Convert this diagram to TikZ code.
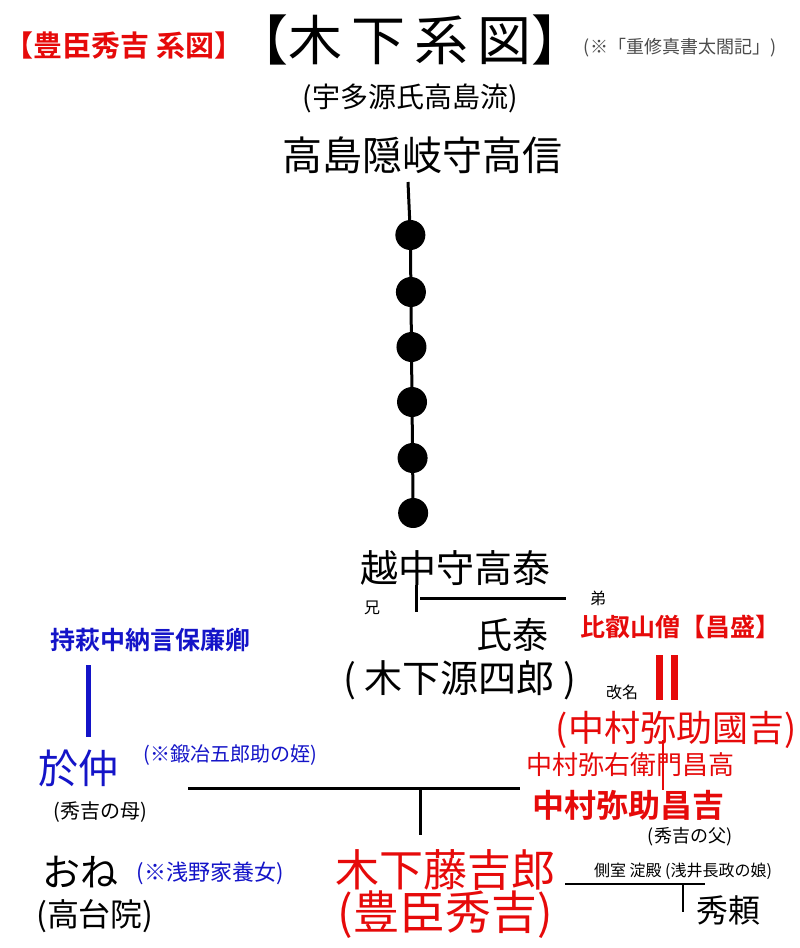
\documentclass[tikz,border=0pt]{standalone}
\usepackage{fontspec}
\setmainfont{Noto Sans CJK JP}
\newfontfamily\boldjp{Noto Sans CJK JP Bold}
\newcommand{\fs}[1]{\fontsize{#1}{#1}\selectfont}
\definecolor{kred}{RGB}{230,10,10}
\definecolor{kblue}{RGB}{20,20,200}
\begin{document}
\begin{tikzpicture}[x=1pt,y=-1pt,
  every node/.style={inner sep=0pt},
  dot/.style={circle, fill=black, minimum size=30pt},
  line/.style={line width=3pt}]
\useasboundingbox[fill=white] (0,0) rectangle (800,948);
% title
\node[text=kred] (ttl) at (124,45) {\boldjp\fs{29}【豊臣秀吉 系図】};
\node (kinoshita) at (410,40) {\fs{54}【木\,下\,系\,図】};
\node[text=black!70] (src) at (680,48) {\fs{18}(※「重修真書太閤記」)};
\node (uda) at (410,98) {\fs{28}(宇多源氏高島流)};
\node (takanobu) at (422,155) {\fs{40}高島隠岐守高信};
% dots
\coordinate (top) at (408,182);
\foreach \y/\n in {235/d1,292/d2,347/d3,402/d4,458/d5,513/d6}
  \node[dot] (\n) at (408+\y/100,\y) {};
\draw[line] (top) -- (d1) -- (d2) -- (d3) -- (d4) -- (d5) -- (d6);
\node (takayasu) at (455,568) {\fs{38}越中守高泰};
\node (ani) at (372,608) {\fs{16}兄};
\node (otouto) at (598,598) {\fs{16}弟};
\coordinate (b1) at (416,585); \coordinate (b2) at (416,612);
\coordinate (h1) at (420,598); \coordinate (h2) at (566,598);
\draw[line] (b1) -- (b2) (h1) -- (h2);
\node (ujiyasu) at (512,635) {\fs{36}氏泰};
\node (genshiro) at (460,680) {\fs{38}(\ 木下源四郎\ )};
\node[text=kred] (shosei) at (680,627) {\boldjp\fs{25}比叡山僧【昌盛】};
% red side
\coordinate (r1) at (659,655); \coordinate (r2) at (659,700);
\coordinate (r3) at (674,655); \coordinate (r4) at (674,700);
\draw[kred, line width=7pt] (r1) -- (r2) (r3) -- (r4);
\node (kaimei) at (622,692) {\fs{16}改名};
\node[text=kred] (kuniyoshi) at (676,730) {\fs{36}(中村弥助國吉)};
\node[text=kred] (masataka) at (630,765) {\fs{26}中村弥右衛門昌高};
\coordinate (m1) at (663,740); \coordinate (m2) at (663,790);
\draw[kred, line width=2pt] (m1) -- (m2);
\node[text=kred] (masayoshi) at (628,805) {\boldjp\fs{32}中村弥助昌吉};
\node (chichi) at (690,837) {\fs{18}(秀吉の父)};
% blue side
\node[text=kblue] (yasukado) at (150,640) {\boldjp\fs{25}持萩中納言保廉卿};
\coordinate (u1) at (88,665); \coordinate (u2) at (88,737);
\draw[kblue, line width=5pt] (u1) -- (u2);
\node[text=kblue] (onaka) at (78,768) {\fs{40}於仲};
\node[text=kblue] (mei) at (230,755) {\fs{20}(※鍛冶五郎助の姪)};
\node (haha) at (100,812) {\fs{20}(秀吉の母)};
\coordinate (f1) at (188,788); \coordinate (f2) at (520,788);
\coordinate (c1) at (420,788); \coordinate (c2) at (420,835);
\draw[line] (f1) -- (f2) (c1) -- (c2);
% bottom
\node (one) at (80,872) {\fs{38}おね};
\node[text=kblue] (asano) at (210,873) {\fs{22}(※浅野家養女)};
\node (kodaiin) at (95,916) {\fs{32}(高台院)};
\node[text=kred] (tokichiro) at (445,870) {\fs{44}木下藤吉郎};
\node[text=kred] (hideyoshi) at (445,915) {\fs{46}(豊臣秀吉)};
\node (yodo) at (683,871) {\fs{16}側室 淀殿 (浅井長政の娘)};
\coordinate (y1) at (565,884); \coordinate (y2) at (705,884);
\coordinate (y3) at (683,884); \coordinate (y4) at (683,912);
\draw[line width=2pt] (y1) -- (y2) (y3) -- (y4);
\node (hideyori) at (728,910) {\fs{32}秀頼};
\end{tikzpicture}
\end{document}
